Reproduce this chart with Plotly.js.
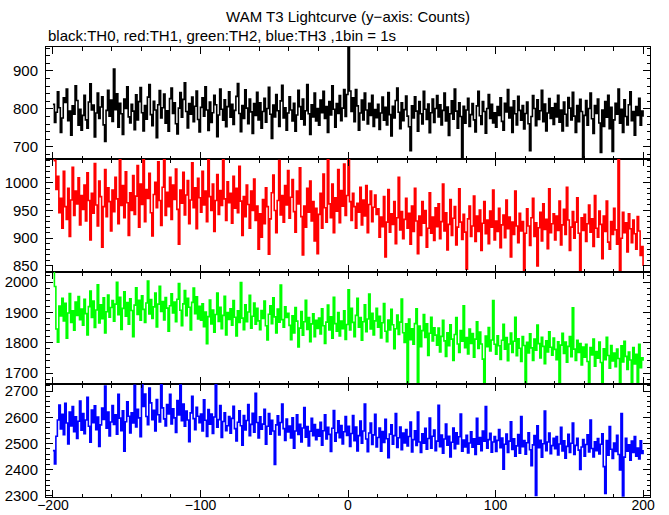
<!DOCTYPE html>
<html><head><meta charset="utf-8">
<script src="https://cdn.plot.ly/plotly-3.0.1.min.js"></script>
<style>html,body{margin:0;padding:0;background:#fff}#chart{width:669px;height:515px}</style>
</head><body><div id="chart"></div>
<script>
// 1 bin = 1 s, first bin at -200 s
const binStart = -200;
const binSize = 1;

const titleText = "WAM T3 Lightcurve (y\u2212axis: Counts)";
const subtitleText = "black:TH0, red:TH1, green:TH2, blue:TH3 ,1bin = 1s";

// TH0 (black) counts per bin
const th0 = [
812,764,791,845,803,738,776,829,817,852,769,794,731,808,786,861,822,757,799,744,
783,836,771,749,818,866,797,810,726,789,842,775,805,832,758,714,796,849,781,823,
767,905,798,840,752,815,787,733,826,801,858,779,763,812,794,745,837,771,819,856,
790,742,809,773,831,864,785,756,820,797,724,811,848,776,803,839,762,795,741,827,
855,788,816,761,734,802,843,778,825,869,793,750,814,786,831,766,807,847,772,739,
804,829,781,858,797,743,818,764,790,836,811,727,784,852,799,770,824,753,806,845,
778,812,759,796,833,867,788,740,809,775,850,802,761,826,792,735,814,783,844,771,
816,749,793,828,765,801,857,786,722,810,779,838,795,754,821,862,776,803,744,789,
832,797,768,815,741,784,849,806,773,826,758,795,864,787,733,811,779,842,768,801,
757,823,790,846,775,806,738,819,784,861,799,752,814,788,835,769,802,851,780,838,
985,847,793,829,766,851,808,744,789,823,771,842,797,760,815,783,836,754,798,777,
812,746,789,831,770,804,758,843,785,729,807,776,822,855,791,748,816,769,798,834,
781,753,690,808,776,832,794,741,819,787,760,846,799,772,813,737,790,826,764,801,
835,779,811,758,796,842,768,805,730,787,821,773,852,794,749,816,780,672,807,762,
797,828,754,785,814,771,739,808,846,782,759,819,793,736,801,838,775,812,763,790,
752,806,783,829,767,744,815,792,851,776,804,738,821,787,758,833,796,770,809,747,
788,818,761,690,780,835,801,756,824,772,795,849,766,813,742,789,827,775,803,759,
814,779,836,765,797,742,818,786,755,830,802,771,844,781,738,809,766,825,793,665,
783,822,757,801,842,774,735,809,788,826,763,685,797,754,819,778,836,748,804,688,
771,815,786,852,762,799,738,824,780,758,811,845,769,793,731,806,783,828,757,794,
779];

// TH1 (red)
const th1 = [
1045,1040,988,1012,946,972,918,1021,957,934,990,903,969,1028,941,985,962,1009,924,977,
952,996,931,1018,968,897,981,945,1035,960,922,1003,975,884,957,1024,939,991,966,913,
987,948,1010,971,926,1046,959,995,937,1020,964,905,982,950,1013,943,976,1031,920,998,
961,1042,930,988,972,1017,946,904,979,1001,955,1038,968,923,992,1047,941,983,957,1010,
934,996,970,1025,952,889,987,963,1019,942,978,1004,926,969,1036,955,991,917,1008,973,
947,1021,960,985,930,1044,975,950,998,912,968,1015,943,986,959,1048,971,932,1002,964,
981,927,1012,954,990,946,1030,967,905,975,939,996,961,918,985,950,1007,932,958,880,
944,902,970,926,991,957,871,935,982,1014,950,910,968,1040,942,977,929,995,960,1022,
936,974,1006,948,911,985,962,1027,939,870,958,920,990,947,1003,931,966,895,954,872,
943,981,918,1016,955,929,1045,962,937,998,910,973,949,1024,928,986,958,1034,941,977,
1046,966,932,981,957,918,963,947,992,924,969,940,995,910,961,985,930,956,978,943,
953,902,938,921,975,866,929,988,911,944,925,966,890,937,1010,915,948,899,934,972,
918,945,889,958,912,990,931,872,940,905,966,927,950,884,918,982,909,938,896,955,
921,962,899,930,998,913,946,879,925,970,905,936,957,888,920,989,929,898,943,911,
844,935,958,903,922,976,894,940,912,951,878,927,966,908,933,890,949,920,987,897,
931,912,954,883,924,942,901,969,917,938,866,929,907,985,922,892,945,913,930,842,
909,953,922,887,937,972,903,928,850,919,947,895,962,916,934,881,989,910,926,944,
897,940,914,967,888,924,952,907,992,933,878,920,948,900,929,973,909,840,937,914,
943,894,926,960,911,935,885,977,918,902,949,925,863,940,912,967,893,880,930,907,
954,915,889,1046,840,900,947,910,928,875,944,917,892,933,908,880,939,913,869,885,
850];

// TH2 (green)
const th2 = [
2040,1985,1845,1802,1921,1888,1946,1872,1930,1815,1898,1962,1867,1905,1841,1934,1890,1952,1876,1911,
1858,1943,1896,1826,1919,1970,1883,1937,1850,1908,1991,1865,1925,1879,1948,1832,1902,1957,1884,1916,
1939,1871,1927,1999,1892,1950,1844,1913,1968,1887,1932,1861,1945,1906,1820,1924,1981,1893,1940,1874,
1955,1910,1867,1931,2003,1895,1942,1880,1918,1964,1852,1927,1986,1903,1936,1875,1949,1914,1838,1922,
1961,1898,1934,1869,1943,1995,1907,1856,1928,1972,1889,1946,1917,1842,1933,1980,1896,1951,1878,1920,
1874,1928,1853,1901,1797,1886,1941,1862,1908,1835,1893,1964,1870,1917,1846,1890,1953,1826,1899,1877,
1912,1858,1939,1884,1822,1905,1867,1998,1881,1843,1925,1869,1901,1956,1848,1887,1931,1861,1913,1872,
1843,1906,1880,1937,1856,1809,1894,1922,1863,1948,1885,1832,1911,1868,1990,1876,1851,1918,1883,1897,
1857,1810,1889,1832,1916,1871,1786,1848,1903,1825,1869,1940,1844,1883,1803,1862,1895,1820,1874,1847,
1881,1829,1912,1856,1798,1868,1924,1842,1885,1815,1950,1863,1838,1899,1822,1871,1846,1905,1811,1860,
1974,1842,1913,1867,1820,1890,1946,1851,1883,1808,1869,1925,1836,1878,1960,1845,1897,1826,1872,1913,
1851,1887,1816,1866,1929,1838,1803,1875,1842,1910,1859,1780,1846,1891,1827,1868,1944,1833,1801,1862,
1660,1878,1810,1846,1795,1863,1912,1662,1855,1787,1840,1893,1817,1862,1758,1831,1884,1806,1849,1825,
1792,1848,1770,1821,1874,1806,1755,1833,1790,1859,1812,1742,1827,1883,1796,1768,1840,1805,1922,1784,
1817,1763,1845,1798,1830,1752,1812,1869,1781,1835,1796,1746,1660,1822,1787,1850,1773,1809,1939,1795,
1762,1823,1790,1745,1808,1861,1779,1817,1741,1796,1832,1768,1805,1884,1757,1813,1782,1738,1820,1791,
1660,1801,1766,1829,1783,1742,1812,1775,1858,1797,1750,1818,1788,1731,1806,1770,1836,1785,1759,1815,
1778,1744,1803,1662,1792,1831,1765,1802,1736,1788,1820,1754,1915,1779,1742,1808,1768,1797,1727,1786,
1752,1795,1738,1661,1784,1760,1812,1723,1771,1749,1802,1735,1662,1780,1744,1818,1758,1716,1791,1740,
1766,1721,1779,1748,1663,1790,1737,1805,1755,1712,1769,1743,1664,1784,1730,1762,1661,1795,1718,1750,
1741];

// TH3 (blue)
const th3 = [
2473,2422,2528,2590,2647,2556,2611,2534,2653,2578,2498,2620,2567,2641,2545,2602,2519,2585,2662,2551,
2614,2537,2590,2676,2566,2505,2628,2579,2644,2553,2601,2489,2571,2635,2592,2719,2558,2620,2529,2582,
2645,2573,2610,2536,2688,2597,2549,2625,2471,2583,2659,2604,2540,2617,2578,2722,2563,2631,2598,2526,
2729,2641,2689,2603,2572,2712,2655,2591,2627,2548,2668,2610,2582,2730,2636,2594,2567,2649,2613,2688,
2575,2632,2598,2542,2664,2609,2723,2587,2651,2566,2624,2590,2507,2617,2680,2595,2553,2638,2604,2579,
2612,2548,2667,2589,2527,2630,2574,2612,2538,2601,2729,2562,2591,2645,2523,2584,2617,2549,2568,2603,
2539,2596,2642,2557,2510,2581,2625,2568,2494,2607,2552,2588,2649,2530,2573,2615,2543,2692,2580,2521,
2602,2555,2574,2631,2497,2566,2614,2536,2589,2548,2420,2571,2606,2533,2580,2651,2557,2512,2593,2544,
2567,2521,2598,2482,2548,2610,2535,2573,2506,2559,2637,2524,2565,2491,2547,2596,2530,2572,2515,2553,
2528,2581,2494,2549,2610,2517,2562,2535,2470,2558,2626,2509,2541,2587,2522,2569,2498,2545,2603,2531,
2566,2489,2538,2607,2511,2563,2472,2530,2586,2501,2548,2651,2517,2469,2540,2578,2496,2533,2611,2487,
2523,2559,2471,2546,2504,2592,2518,2446,2536,2571,2497,2530,2614,2485,2522,2563,2476,2540,2502,2553,
2491,2527,2582,2468,2515,2549,2493,2620,2506,2466,2537,2501,2558,2478,2519,2597,2482,2528,2551,2473,
2509,2646,2488,2532,2463,2517,2574,2494,2528,2449,2505,2559,2480,2541,2498,2526,2612,2471,2513,2487,
2531,2464,2502,2545,2486,2518,2458,2596,2497,2523,2473,2548,2509,2641,2482,2515,2539,2467,2506,2527,
2470,2512,2553,2484,2521,2402,2497,2536,2466,2509,2583,2477,2518,2452,2491,2534,2463,2603,2488,2511,
2459,2503,2541,2476,2415,2495,2530,2302,2568,2484,2512,2448,2499,2624,2473,2506,2540,2461,2492,2520,
2480,2527,2456,2498,2562,2472,2510,2444,2489,2535,2466,2501,2578,2458,2493,2520,2475,2401,2487,2515,
2452,2496,2533,2468,2590,2481,2449,2507,2473,2519,2460,2497,2537,2412,2310,2511,2455,2565,2478,2443,
2502,2470,2531,2458,2399,2614,2300,2448,2520,2471,2495,2436,2509,2466,2527,2452,2483,2441,2510,2462,
2475];

const seriesNames = ["TH0", "TH1", "TH2", "TH3"];
const seriesColors = ["#000000", "#ff0000", "#00ff00", "#0000ff"];
const yRanges = [[668, 963], [839, 1043], [1664, 2033], [2296, 2727]];
const yMajor = [100, 50, 100, 100];
const yMinor = [20, 10, 20, 20];

const timeBins = th0.map((_, i) => binStart + i * binSize);
const allSeries = [th0, th1, th2, th3];

const domains = [[0.7511, 1], [0.5, 0.7511], [0.2511, 0.5], [0, 0.2511]];
const FONT = '"Liberation Sans", Arial, Helvetica, sans-serif';

const traces = allSeries.map((vals, k) => ({
  type: 'scatter', mode: 'lines',
  x: timeBins, y: vals, name: seriesNames[k],
  xaxis: k === 0 ? 'x' : 'x' + (k + 1),
  yaxis: k === 0 ? 'y' : 'y' + (k + 1),
  line: {color: seriesColors[k], width: 1.6, shape: 'hv'},
  hoverinfo: 'x+y'
}));

const layout = {
  width: 669, height: 515,
  margin: {l: 46, r: 19, t: 47, b: 18, pad: 0},
  paper_bgcolor: '#fff', plot_bgcolor: '#fff',
  showlegend: false,
  font: {family: FONT, size: 15, color: '#000'},
  title: {text: titleText, x: 0.5, xref: 'paper', xanchor: 'center',
          y: 1 - 17 / 515, yref: 'container', yanchor: 'middle',
          font: {family: FONT, size: 15, color: '#000'}},
  annotations: [{text: subtitleText, xref: 'paper', yref: 'paper', x: 0, y: 1 + 12 / 450,
    xanchor: 'left', yanchor: 'middle', showarrow: false, font: {family: FONT, size: 15, color: '#000'}}]
};

for (let k = 0; k < 4; k++) {
  const xs = k === 0 ? 'xaxis' : 'xaxis' + (k + 1);
  const ys = k === 0 ? 'yaxis' : 'yaxis' + (k + 1);
  layout[xs] = {
    domain: [0, 1], range: [-204.7, 204.7], anchor: k === 0 ? 'y' : 'y' + (k + 1),
    tick0: 0, dtick: 100, ticks: 'inside', ticklen: 7, tickwidth: 1, tickcolor: '#000',
    minor: {ticks: 'inside', dtick: 20, tick0: 0, ticklen: 3.5, tickwidth: 1, tickcolor: '#000', showgrid: false},
    showline: true, linecolor: '#000', linewidth: 1, mirror: 'allticks',
    showgrid: false, zeroline: false, showticklabels: k === 3,
    tickfont: {family: FONT, size: 14, color: '#000'}, ticklabelstandoff: -5,
    automargin: false, fixedrange: true
  };
  if (k > 0) layout[xs].matches = 'x';
  layout[ys] = {
    domain: domains[k], range: yRanges[k], anchor: k === 0 ? 'x' : 'x' + (k + 1),
    tick0: 0, dtick: yMajor[k], ticks: 'inside', ticklen: 7, tickwidth: 1, tickcolor: '#000',
    minor: {ticks: 'inside', dtick: yMinor[k], tick0: 0, ticklen: 3.5, tickwidth: 1, tickcolor: '#000', showgrid: false},
    showline: true, linecolor: '#000', linewidth: 1, mirror: 'allticks',
    showgrid: false, zeroline: false,
    tickfont: {family: FONT, size: 15, color: '#000'}, ticklabelstandoff: 4,
    automargin: false, fixedrange: true
  };
}

Plotly.newPlot('chart', traces, layout, {displayModeBar: false, staticPlot: true});
</script>
</body></html>
